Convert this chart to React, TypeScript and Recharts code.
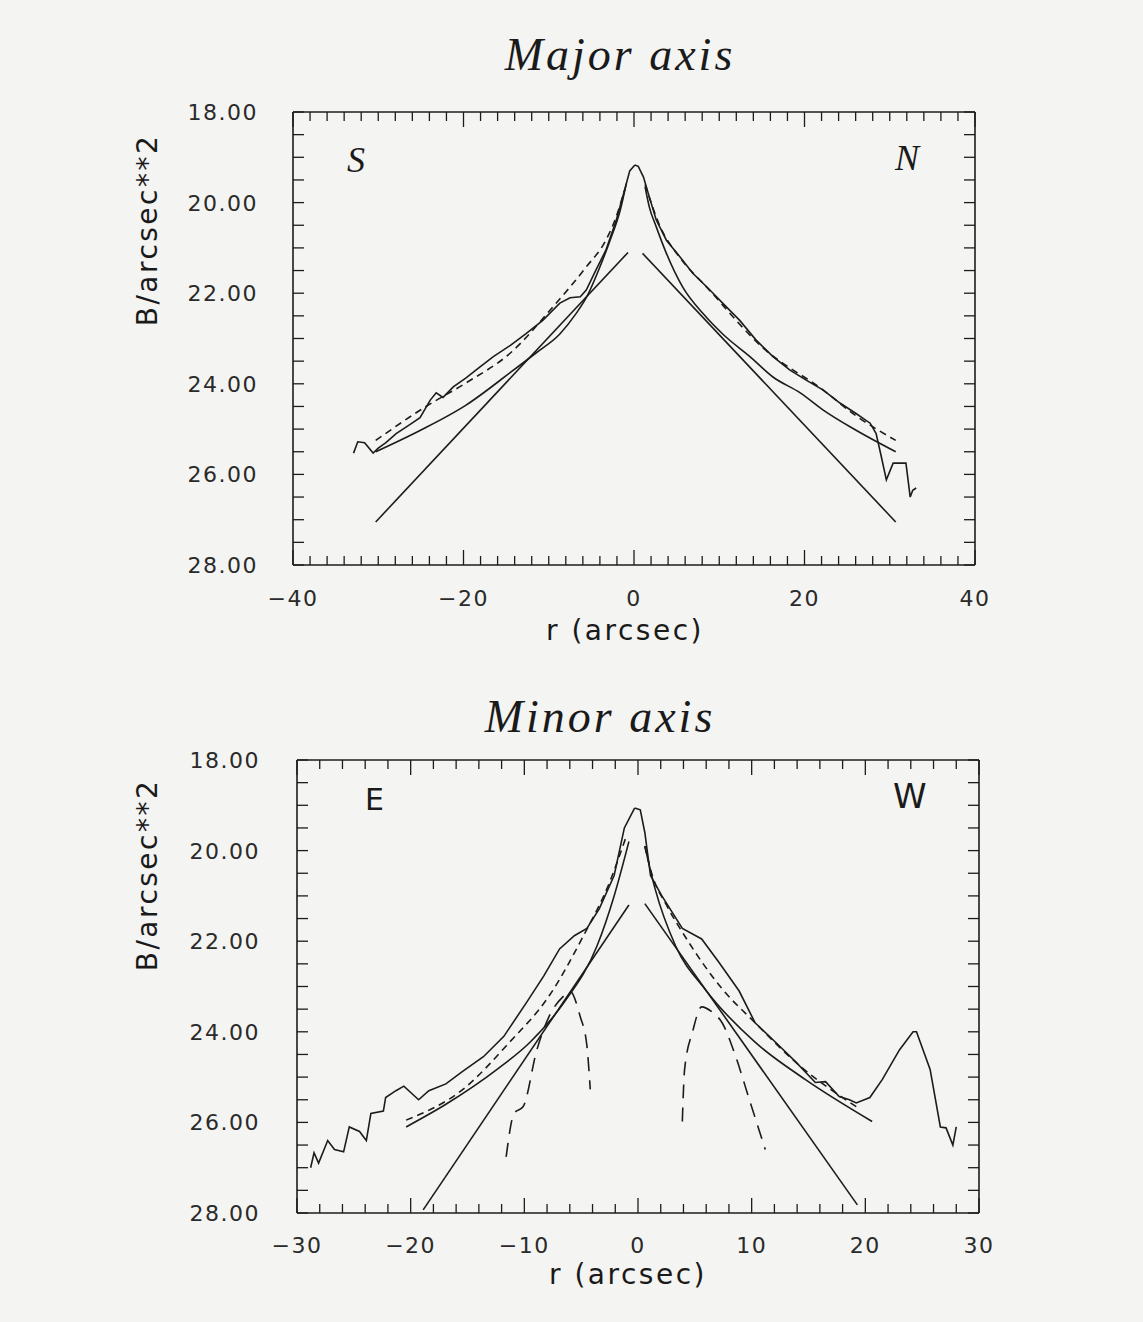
import React from 'react';
import { LineChart, Line, XAxis, YAxis } from 'recharts';

// ---- Major axis (S on the left, N on the right); r in arcsec, B mag/arcsec^2 ----
const majorProfileS = [
  [-32.9, 25.53], [-32.4, 25.28], [-31.6, 25.3], [-30.6, 25.53], [-30.0, 25.42], [-29.1, 25.3],
  [-27.9, 25.1], [-26.3, 24.9], [-25.1, 24.75], [-23.9, 24.36], [-23.2, 24.2], [-22.4, 24.3],
  [-21.2, 24.07], [-19.7, 23.87], [-18.1, 23.63], [-16.5, 23.4], [-14.5, 23.15], [-12.7, 22.9],
  [-10.7, 22.6], [-8.7, 22.22], [-7.5, 22.1], [-6.3, 22.08], [-5.6, 21.93], [-4.5, 21.5],
  [-3.3, 21.05], [-2.1, 20.4], [-1.1, 19.72], [-0.5, 19.3], [0.1, 19.17],
];
const majorProfileN = [
  [0.1, 19.17], [0.5, 19.2], [1.1, 19.43], [1.9, 19.94], [2.6, 20.38], [3.8, 20.83], [5.4, 21.2],
  [6.9, 21.56], [8.9, 21.93], [10.4, 22.22], [12.4, 22.6], [14.3, 23.03], [16.3, 23.4],
  [18.3, 23.7], [20.2, 23.92], [22.2, 24.14], [24.2, 24.43], [26.0, 24.65], [27.7, 24.87],
  [28.4, 25.1], [29.0, 25.6], [29.6, 26.12], [30.4, 25.75], [31.9, 25.75], [32.4, 26.5],
  [32.7, 26.35], [33.1, 26.3],
];
const majorFitS = [
  [-30.3, 25.25], [-24.4, 24.5], [-19.7, 23.98], [-14.5, 23.32], [-9.5, 22.3], [-5.6, 21.42],
  [-3.3, 20.83], [-2.1, 20.32], [-1.1, 19.72],
];
const majorFitN = [
  [1.3, 19.6], [3.0, 20.5], [5.4, 21.22], [8.5, 21.86], [15.1, 23.2], [22.2, 24.14], [26.0, 24.7],
  [30.7, 25.25],
];
const majorBulgeS = [
  [-30.3, 25.5], [-25.1, 25.03], [-19.7, 24.47], [-14.5, 23.75], [-11.5, 23.32], [-8.7, 22.9],
  [-6.8, 22.45], [-5.6, 22.1], [-4.0, 21.42], [-2.8, 20.83], [-1.6, 20.16], [-0.9, 19.58],
];
const majorBulgeN = [
  [1.3, 19.65], [1.8, 20.1], [2.6, 20.53], [3.8, 21.12], [5.7, 21.86], [8.1, 22.45], [10.4, 22.9],
  [13.6, 23.4], [16.3, 23.85], [19.5, 24.2], [22.2, 24.58], [26.0, 25.02], [30.7, 25.5],
];
const majorDiskS = [[-30.3, 27.05], [-0.7, 21.1]];
const majorDiskN = [[1.0, 21.12], [30.7, 27.05]];

// ---- Minor axis (E on the left, W on the right) ----
const minorProfileE = [
  [-28.8, 27.0], [-28.5, 26.67], [-28.1, 26.9], [-27.3, 26.4], [-26.7, 26.6], [-25.9, 26.65],
  [-25.4, 26.1], [-24.5, 26.2], [-23.9, 26.4], [-23.5, 25.8], [-22.4, 25.75], [-22.2, 25.45],
  [-21.3, 25.3], [-20.6, 25.2], [-19.3, 25.5], [-18.4, 25.3], [-16.9, 25.15], [-15.4, 24.87],
  [-13.6, 24.55], [-11.8, 24.1], [-9.8, 23.35], [-8.3, 22.77], [-6.9, 22.17], [-5.6, 21.88],
  [-4.5, 21.72], [-3.4, 21.28], [-2.1, 20.55], [-1.2, 19.5], [-0.3, 19.06],
];
const minorProfileW = [
  [-0.3, 19.06], [0.2, 19.1], [0.6, 19.6], [1.1, 20.55], [2.1, 21.0], [3.9, 21.72], [5.6, 21.95],
  [7.1, 22.46], [8.9, 23.1], [10.3, 23.8], [12.1, 24.23], [13.9, 24.67], [15.6, 25.12],
  [16.5, 25.1], [17.7, 25.43], [18.6, 25.5], [19.2, 25.57], [20.4, 25.45], [21.5, 25.05],
  [23.0, 24.4], [24.2, 24.0], [24.5, 24.0], [25.7, 24.83], [26.6, 26.1], [27.1, 26.12],
  [27.7, 26.5], [28.0, 26.1],
];
const minorFitE = [
  [-20.4, 25.95], [-15.4, 25.27], [-11.3, 24.23], [-7.8, 23.2], [-4.8, 21.88], [-2.5, 20.7],
  [-1.0, 19.66],
];
const minorFitW = [
  [0.6, 19.9], [1.2, 20.5], [2.5, 21.2], [4.1, 21.88], [7.4, 23.05], [10.3, 23.8], [14.0, 24.7],
  [19.5, 25.7],
];
const minorBulgeE = [
  [-20.4, 26.1], [-16.9, 25.6], [-12.4, 24.83], [-9.5, 24.23], [-6.5, 23.35], [-3.6, 22.1],
  [-2.1, 21.0], [-0.8, 19.8],
];
const minorBulgeW = [
  [0.6, 19.9], [1.5, 20.84], [3.3, 22.1], [5.9, 23.06], [10.3, 24.23], [14.7, 25.05], [20.6, 25.98],
];
const minorDiskE = [[-18.9, 27.93], [-0.8, 21.2]];
const minorDiskW = [[0.6, 21.17], [19.3, 27.82]];
const minorBumpE = [
  [-11.6, 26.76], [-10.9, 25.8], [-10.1, 25.65], [-8.9, 24.4], [-7.8, 23.65], [-6.5, 23.2],
  [-6.0, 23.1], [-5.1, 23.65], [-4.5, 24.3], [-4.2, 25.27],
];
const minorBumpW = [
  [3.9, 25.98], [4.1, 24.83], [4.8, 24.0], [5.6, 23.45], [6.5, 23.56], [7.4, 23.8], [8.6, 24.55],
  [9.8, 25.5], [11.2, 26.6],
];

// tick labels
const majorXLabels = [-40, -20, 0, 20, 40];
const minorXLabels = [-30, -20, -10, 0, 10, 20, 30];
const yLabels = [18, 20, 22, 24, 26, 28];

const range = (a: number, b: number, step: number) => {
  const out: number[] = [];
  for (let v = a; v <= b + 1e-9; v += step) out.push(Math.round(v * 100) / 100);
  return out;
};

const INK = '#1c1c1c';
const FONT = '"DejaVu Sans", sans-serif';
const HAND = '"Liberation Serif", serif';

const pts = (arr: number[][]) => arr.map(([x, y]) => ({ x, y }));
const fmtX = (v: number) => (v < 0 ? '\u2212' + Math.abs(v) : String(v));

const xTick = (labels: number[], top: boolean, dy: number) => (props: any) => {
  const { x, y, payload } = props;
  const v = payload.value;
  const major = labels.includes(v);
  const len = major ? 15 : 9;
  return (
    <g>
      <line x1={x} x2={x} y1={y} y2={top ? y + len : y - len} stroke={INK} strokeWidth={1.3} />
      {!top && major && (
        <text x={x} y={y + dy} textAnchor="middle" fontFamily={FONT} fontSize={22} letterSpacing={1.5} fill="#2a2a2a">
          {fmtX(v)}
        </text>
      )}
    </g>
  );
};

const yTick = (right: boolean, dx: number) => (props: any) => {
  const { x, y, payload } = props;
  const v = payload.value;
  const major = yLabels.includes(v);
  return (
    <g>
      <line x1={x} x2={right ? x - 11 : x + 11} y1={y} y2={y} stroke={INK} strokeWidth={1.3} />
      {!right && major && (
        <text x={x - dx} y={y + 8} textAnchor="end" fontFamily={FONT} fontSize={22} letterSpacing={1.5} fill="#2a2a2a">
          {v.toFixed(2)}
        </text>
      )}
    </g>
  );
};

type Series = { data: number[][]; dash?: string; type?: 'linear' | 'monotone' };

function Panel(props: {
  width: number;
  height: number;
  margin: { top: number; right: number; bottom: number; left: number };
  xDomain: [number, number];
  xLabels: number[];
  series: Series[];
  labelDy: number;
  labelDx: number;
}) {
  const { width, height, margin, xDomain, xLabels, series, labelDy, labelDx } = props;
  const xTicks = range(xDomain[0], xDomain[1], 2);
  const yTicks = range(18, 28, 0.5);
  const axisLine = { stroke: INK, strokeWidth: 1.6 };
  return (
    <LineChart width={width} height={height} margin={margin}>
      <XAxis
        dataKey="x" type="number" domain={xDomain} allowDataOverflow ticks={xTicks} interval={0}
        height={30} tickSize={0} tickMargin={0} axisLine={axisLine} tickLine={false}
        tick={xTick(xLabels, false, labelDy)}
      />
      <XAxis
        xAxisId="top" orientation="top" dataKey="x" type="number" domain={xDomain} allowDataOverflow
        ticks={xTicks} interval={0} height={10} tickSize={0} tickMargin={0} axisLine={axisLine}
        tickLine={false} tick={xTick(xLabels, true, 0)}
      />
      <YAxis
        type="number" domain={[18, 28]} reversed allowDataOverflow ticks={yTicks} interval={0}
        width={60} tickSize={0} tickMargin={0} axisLine={axisLine} tickLine={false}
        tick={yTick(false, labelDx)}
      />
      <YAxis
        yAxisId="right" orientation="right" type="number" domain={[18, 28]} reversed allowDataOverflow
        ticks={yTicks} interval={0} width={10} tickSize={0} tickMargin={0} axisLine={axisLine}
        tickLine={false} tick={yTick(true, 0)}
      />
      {series.map((s, i) => (
        <Line
          key={i}
          data={pts(s.data)}
          dataKey="y"
          type={s.type ?? 'monotone'}
          dot={false}
          activeDot={false}
          stroke={INK}
          strokeWidth={1.6}
          strokeDasharray={s.dash}
          isAnimationActive={false}
        />
      ))}
    </LineChart>
  );
}

const FIT_DASH = '7 5';
const BUMP_DASH = '14 9';

const majorSeries: Series[] = [
  { data: majorProfileS, type: 'linear' },
  { data: majorProfileN, type: 'linear' },
  { data: majorFitS, dash: FIT_DASH },
  { data: majorFitN, dash: FIT_DASH },
  { data: majorBulgeS },
  { data: majorBulgeN },
  { data: majorDiskS, type: 'linear' },
  { data: majorDiskN, type: 'linear' },
];

const minorSeries: Series[] = [
  { data: minorProfileE, type: 'linear' },
  { data: minorProfileW, type: 'linear' },
  { data: minorFitE, dash: FIT_DASH },
  { data: minorFitW, dash: FIT_DASH },
  { data: minorBulgeE },
  { data: minorBulgeW },
  { data: minorDiskE, type: 'linear' },
  { data: minorDiskW, type: 'linear' },
  { data: minorBumpE, dash: BUMP_DASH },
  { data: minorBumpW, dash: BUMP_DASH },
];

const abs = (left: number, top: number, extra: React.CSSProperties = {}): React.CSSProperties => ({
  position: 'absolute', left, top, color: '#1a1a1a', whiteSpace: 'nowrap', ...extra,
});

export default function App() {
  const axisTitle: React.CSSProperties = { fontFamily: FONT, fontSize: 28, letterSpacing: 2.5, lineHeight: '32px' };
  const hand: React.CSSProperties = { fontFamily: HAND, fontStyle: 'italic', fontSize: 46, letterSpacing: 3, lineHeight: '50px' };
  const letter: React.CSSProperties = { fontFamily: HAND, fontStyle: 'italic', fontSize: 36, lineHeight: '40px' };
  return (
    <div style={{ position: 'absolute', left: 0, top: 0, width: 1143, height: 1322, background: '#f4f4f2', overflow: 'hidden' }}>
      {/* top panel */}
      <div style={{ position: 'absolute', left: 0, top: 0 }}>
        <Panel
          width={1143} height={660}
          margin={{ top: 102, right: 158, bottom: 65, left: 233 }}
          xDomain={[-40, 40]} xLabels={majorXLabels} series={majorSeries}
          labelDy={41} labelDx={35}
        />
      </div>
      {/* bottom panel */}
      <div style={{ position: 'absolute', left: 0, top: 660 }}>
        <Panel
          width={1143} height={662}
          margin={{ top: 90, right: 154, bottom: 79, left: 237 }}
          xDomain={[-30, 30]} xLabels={minorXLabels} series={minorSeries}
          labelDy={40} labelDx={37}
        />
      </div>

      <div style={abs(0, 30, { ...hand, width: 1240, textAlign: 'center' })}>Major axis</div>
      <div style={abs(0, 692, { ...hand, width: 1200, textAlign: 'center' })}>Minor axis</div>

      <div style={abs(0, 615, { ...axisTitle, width: 1250, textAlign: 'center' })}>r  (arcsec)</div>
      <div style={abs(0, 1259, { ...axisTitle, width: 1256, textAlign: 'center' })}>r  (arcsec)</div>

      <div style={abs(148, 230, { ...axisTitle, transform: 'translate(-50%, -50%) rotate(-90deg)' })}>B/arcsec**2</div>
      <div style={abs(148, 875, { ...axisTitle, transform: 'translate(-50%, -50%) rotate(-90deg)' })}>B/arcsec**2</div>

      <div style={abs(347, 140, letter)}>S</div>
      <div style={abs(895, 138, letter)}>N</div>
      <div style={abs(365, 780, { ...letter, fontStyle: 'normal', fontFamily: FONT, fontSize: 30 })}>E</div>
      <div style={abs(893, 776, { ...letter, fontStyle: 'normal', fontFamily: FONT, fontSize: 34 })}>W</div>
    </div>
  );
}
